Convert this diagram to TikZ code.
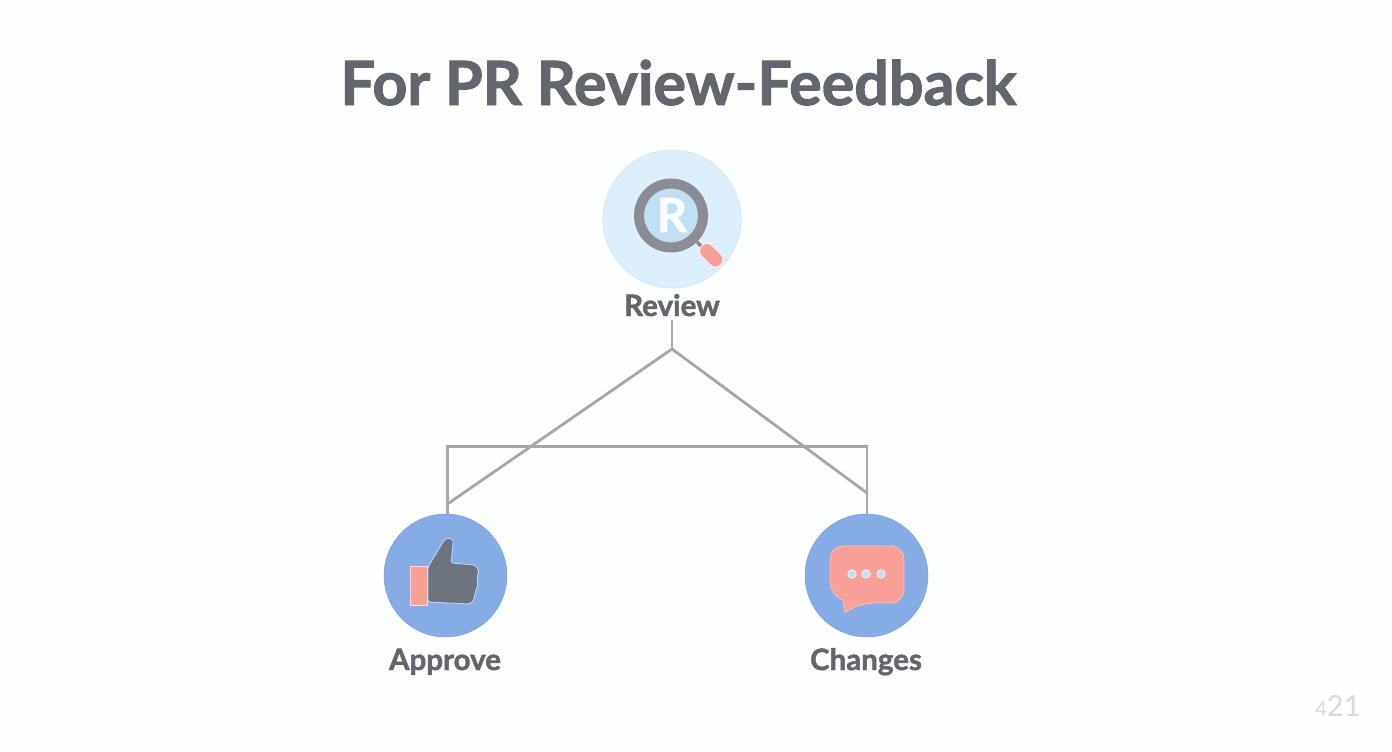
\documentclass[tikz,border=0pt]{standalone}
\usepackage{fontspec}
\setmainfont{Lato}[BoldFeatures={FakeBold=1.6}]
\usepackage{tikz}
\definecolor{PageColor}{RGB}{253,254,254}
\definecolor{InkColor}{RGB}{100,102,109}
\definecolor{LinkColor}{RGB}{166,167,170}
\definecolor{PaleColor}{RGB}{220,239,251}
\definecolor{LensColor}{RGB}{193,224,242}
\definecolor{RingColor}{RGB}{140,141,148}
\definecolor{BlueColor}{RGB}{134,172,230}
\definecolor{PinkColor}{RGB}{249,160,152}
\definecolor{ThumbColor}{RGB}{110,115,128}
\begin{document}
\begin{tikzpicture}[x=1pt,y=-1pt,
  link/.style={draw=LinkColor,line width=2.8pt},
  disc/.style={circle,inner sep=0pt,minimum size=123pt,fill=BlueColor,draw=BlueColor!90!black,line width=0.4pt},
  lbl/.style={text=InkColor,font=\fontsize{29.5}{31}\selectfont\bfseries,inner sep=0pt,anchor=base}]
\useasboundingbox[fill=PageColor] (0,0) rectangle (1392,752);
\node[text=InkColor,font=\fontsize{61}{64}\selectfont\bfseries,inner sep=0pt,anchor=base](title) at(678.5,105) {For PR Review-Feedback};
\node[circle,inner sep=0pt,minimum size=138pt,fill=PaleColor,draw=LensColor!80!white,line width=0.6pt](review) at(672,219) {};
\node[disc](approve) at(445.5,575.5) {};
\node[disc](changes) at(866.5,575.5) {};
\foreach \n/\x/\y/\t in %
{reviewlbl/672/316/Review,approvelbl/445/670/Approve,changeslbl/866/670/Changes} {
   \node[lbl](\n) at (\x,\y) {\t};
}
\coordinate (fork) at (672,349);
\coordinate (barL) at (447.5,446.5);
\coordinate (barR) at (867,446.5);
\coordinate (joinL) at (447.5,504);
\coordinate (joinR) at (867,493);
\coordinate (stem) at (672,320);
\draw[link] (stem) -- (fork);
\draw[link] (joinL) -- (fork) -- (joinR);
\draw[link] (barL |- approve.north) -- (barL) -- (barR) -- (barR |- changes.north);
\draw[line width=3.5pt,draw=RingColor] (697,242) -- (705,250);
\draw[line width=15.5pt,draw=white,line cap=round] (707,251) -- (715.5,259.5);
\draw[line width=14pt,draw=PinkColor,line cap=round] (707,251) -- (715.5,259.5);
\node[circle,inner sep=0pt,minimum size=64pt,fill=LensColor,draw=RingColor,line width=10pt](lens) at(671,215.5) {};
\node[text=white!92!LensColor,font=\fontsize{47}{49}\selectfont\bfseries,inner sep=0pt,anchor=base](letter) at(672,232) {R};
\fill[PinkColor,draw=white!60!PinkColor,line width=0.8pt] (410,566) rectangle (427,605);
\fill[ThumbColor,draw=white!45!BlueColor,line width=0.9pt,rounded corners=2.5pt] (428,567) -- (443,542) .. controls (447,537) and (453,538) .. (453,544) -- (451,563) -- (475,565) -- (479,570) -- (477,577) -- (478,585) -- (475,593) -- (474,600) -- (470,604) -- (428,602) -- cycle;
\fill[PinkColor,draw=white!30!PinkColor,line width=0.8pt,rounded corners=13pt] (867,546) -- (904,546) -- (904,603) -- (861,603) [sharp corners] -- (845,612.5) -- (843,600) .. controls (835,597) and (830,590) .. (830,580) [rounded corners=13pt] -- (830,546) -- cycle;
\foreach \x in %
{852,866,881} {
   \fill[LensColor,draw=white!70!LensColor,line width=0.8pt] (\x,574) circle (4.2pt);
}
\node[text=black!15,font=\fontsize{29}{31}\selectfont,inner sep=0pt,anchor=base](stamp) at(1338,716) {{\fontsize{20}{22}\selectfont 4}21};
\end{tikzpicture}
\end{document}
